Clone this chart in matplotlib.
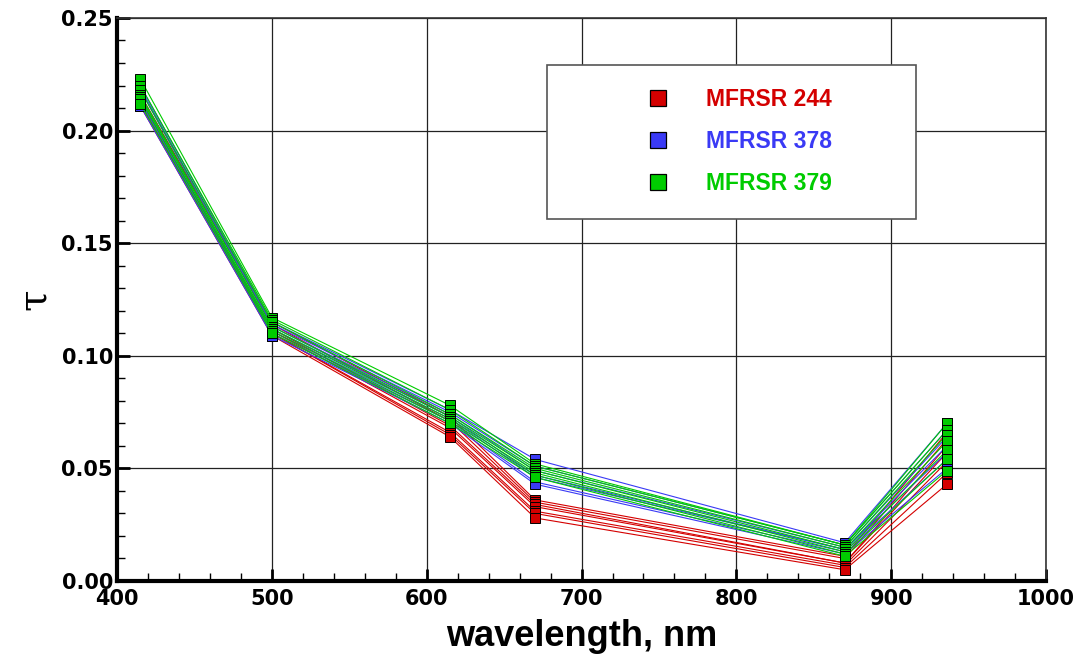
import matplotlib
matplotlib.use("Agg")
import matplotlib.pyplot as plt
from matplotlib.lines import Line2D
from matplotlib.patches import Rectangle
from matplotlib.ticker import MultipleLocator

# MFRSR channel centre wavelengths, nm
wavelengths = [415, 500, 615, 670, 870, 936]

# Aerosol optical depth, one row per day, for each radiometer
tau_244 = [
    [0.216, 0.115, 0.073, 0.036, 0.011, 0.066],
    [0.215, 0.114, 0.071, 0.035, 0.010, 0.063],
    [0.213, 0.112, 0.069, 0.034, 0.008, 0.060],
    [0.212, 0.111, 0.068, 0.033, 0.008, 0.057],
    [0.214, 0.110, 0.066, 0.031, 0.007, 0.053],
    [0.212, 0.110, 0.065, 0.030, 0.006, 0.048],
    [0.211, 0.109, 0.064, 0.028, 0.005, 0.043],
]
tau_378 = [
    [0.220, 0.115, 0.076, 0.054, 0.017, 0.070],
    [0.219, 0.114, 0.075, 0.051, 0.016, 0.067],
    [0.218, 0.113, 0.074, 0.049, 0.015, 0.064],
    [0.215, 0.112, 0.073, 0.047, 0.014, 0.060],
    [0.214, 0.111, 0.072, 0.046, 0.014, 0.057],
    [0.213, 0.110, 0.071, 0.044, 0.013, 0.054],
    [0.211, 0.109, 0.070, 0.043, 0.012, 0.050],
]
tau_379 = [
    [0.223, 0.117, 0.078, 0.052, 0.016, 0.070],
    [0.220, 0.116, 0.076, 0.051, 0.016, 0.067],
    [0.218, 0.115, 0.074, 0.050, 0.015, 0.065],
    [0.216, 0.113, 0.073, 0.049, 0.014, 0.062],
    [0.215, 0.112, 0.072, 0.048, 0.013, 0.058],
    [0.214, 0.111, 0.071, 0.047, 0.012, 0.054],
    [0.212, 0.110, 0.070, 0.046, 0.011, 0.049],
]

instruments = ["MFRSR 244", "MFRSR 378", "MFRSR 379"]
colors = ["#d40000", "#3a3af5", "#00cc00"]
datasets = [tau_244, tau_378, tau_379]

x_ticks = [400, 500, 600, 700, 800, 900, 1000]
y_ticks = [0.00, 0.05, 0.10, 0.15, 0.20, 0.25]

fig = plt.figure(figsize=(10.84, 6.56), dpi=100)
ax = fig.add_axes([0.108, 0.1143, 0.857, 0.8583])

for rows, color in zip(datasets, colors):
    for row in rows:
        ax.plot(wavelengths, row, color=color, lw=0.8, marker="s", ms=6.8,
                mfc=color, mec="black", mew=0.7, zorder=3)

ax.set_xlim(400, 1000)
ax.set_ylim(0, 0.25)
ax.set_xticks(x_ticks)
ax.set_yticks(y_ticks)
ax.set_xticklabels([str(t) for t in x_ticks], fontfamily="DejaVu Sans",
                   fontweight="bold", fontsize=15)
ax.set_yticklabels([f"{t:.2f}" for t in y_ticks], fontfamily="DejaVu Sans",
                   fontweight="bold", fontsize=15)
ax.xaxis.set_minor_locator(MultipleLocator(20))
ax.yaxis.set_minor_locator(MultipleLocator(0.01))
ax.tick_params(which="major", direction="in", length=9, width=2, pad=6,
               colors="black")
ax.tick_params(which="minor", direction="in", length=6, width=1)
ax.tick_params(axis="x", pad=6)
ax.tick_params(axis="y", pad=3)

ax.grid(True, which="major", color="#222222", lw=0.9)
ax.set_axisbelow(True)

for side in ("left", "bottom"):
    ax.spines[side].set_linewidth(3)
for side in ("top", "right"):
    ax.spines[side].set_linewidth(1.2)
    ax.spines[side].set_color("#333333")

ax.set_xlabel("wavelength, nm", fontfamily="Liberation Sans",
              fontweight="bold", fontsize=26, labelpad=7)
ax.set_ylabel("τ", fontfamily="DejaVu Serif", fontsize=28, labelpad=6)

# legend box
ax.add_patch(Rectangle((0.463, 0.643), 0.397, 0.2735, transform=ax.transAxes,
                       facecolor="white", edgecolor="#555555", lw=1.2,
                       zorder=5))
handles = [Line2D([], [], ls="none", marker="s", ms=12, mfc=c, mec="black",
                  mew=0.9) for c in colors]
leg = ax.legend(handles, instruments, loc="upper left",
                bbox_to_anchor=(0.5578, 0.8963), frameon=False, borderpad=0,
                handlelength=1.0, handletextpad=1.6, labelspacing=0.83,
                prop={"family": "Liberation Sans", "weight": "bold",
                      "size": 16.5},
                labelcolor="markerfacecolor")
leg.set_zorder(6)

fig.savefig("out.png", dpi=100)
